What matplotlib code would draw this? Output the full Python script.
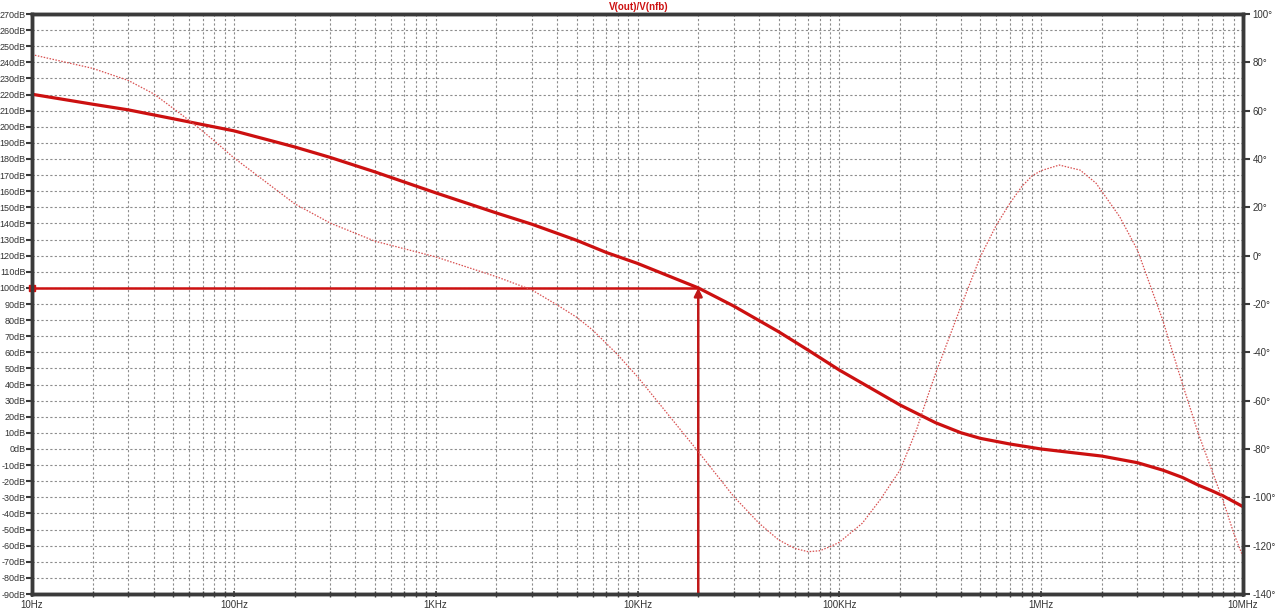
import numpy as np
import matplotlib
matplotlib.use("Agg")
from matplotlib import pyplot as plt
from matplotlib.ticker import FixedLocator, NullFormatter

plt.rcParams['font.family'] = ['Liberation Sans', 'DejaVu Sans']

# magnitude of V(out)/V(nfb), dB
mag_freq = [10, 20, 30, 50, 100, 200, 300, 500, 1e3, 2e3, 3e3, 5e3, 7e3, 10e3,
            20e3, 30e3, 50e3, 70e3, 100e3, 200e3, 300e3, 400e3, 500e3, 700e3,
            1e6, 2e6, 3e6, 4e6, 5e6, 6e6, 7e6, 8e6, 10e6]
mag_db = [220.2, 214.0, 210.5, 205.0, 197.5, 187.5, 181.0, 172.0, 159.0, 146.5,
          139.5, 129.5, 122.0, 115.2, 100.0, 88.7, 72.8, 61.4, 49.0, 27.3, 16.3,
          10.1, 6.6, 3.1, 0.0, -4.4, -8.5, -13.1, -17.6, -22.4, -25.9, -29.2, -35.8]

# phase, degrees
ph_freq = [10, 20, 30, 40, 50, 60, 70, 80, 100, 200, 300, 500, 1e3, 2e3, 3e3,
           4e3, 5e3, 6e3, 7e3, 8e3, 10e3, 20e3, 30e3, 40e3, 50e3, 60e3, 70e3,
           80e3, 90e3, 100e3, 130e3, 159e3, 200e3, 241e3, 270e3, 300e3, 400e3,
           500e3, 600e3, 700e3, 800e3, 900e3, 1e6, 1.23e6, 1.56e6, 1.87e6,
           2.45e6, 3e6, 4e6, 5e6, 6e6, 7e6, 8e6, 9e6, 10e6]
ph_deg = [83.2, 77.5, 72.5, 67.0, 61.0, 56.0, 51.5, 47.5, 40.5, 21.5, 13.5, 6.0,
          -0.5, -8.7, -14.2, -20.4, -25.5, -30.8, -36.3, -41.1, -50.1, -81.1,
          -99.7, -110.7, -117.6, -121.1, -122.5, -122.1, -120.4, -118.6, -110.7,
          -101.1, -88.7, -72.1, -59.7, -48.7, -21.1, -0.4, 12.7, 21.7, 28.5,
          33.0, 35.2, 37.5, 35.4, 30.0, 16.1, 2.3, -26.6, -52.8, -73.5, -88.7,
          -101.8, -114.9, -124.6]

cursor_freq = 20e3
cursor_db = 100

db_ticks = list(range(-90, 280, 10))
deg_ticks = list(range(-140, 120, 20))
dec_ticks = [10, 100, 1e3, 1e4, 1e5, 1e6, 1e7]
dec_labels = ['10Hz', '100Hz', '1KHz', '10KHz', '100KHz', '1MHz', '10MHz']

red = '#cc1010'
frame = '#3a3a3a'
txt = '#333333'

fig = plt.figure(figsize=(12.77, 6.14), dpi=100)
ax = fig.add_axes([32 / 1277, 20 / 614, 1211 / 1277, 580 / 614])
ax2 = ax.twinx()

ax.set_xscale('log')
ax.set_xlim(10, 1e7)
ax.set_ylim(-90, 270)
ax2.set_ylim(-140, 100)

minors = [m * d for d in dec_ticks[:-1] for m in range(2, 10)]
ax.xaxis.set_major_locator(FixedLocator(dec_ticks))
ax.xaxis.set_minor_locator(FixedLocator(minors))
ax.xaxis.set_minor_formatter(NullFormatter())
ax.set_xticklabels(dec_labels)
ax.set_yticks(db_ticks)
ax.set_yticklabels(['%ddB' % v for v in db_ticks])
ax2.set_yticks(deg_ticks)
ax2.set_yticklabels(['%d°' % v for v in deg_ticks])

grid_kw = dict(color='#8c8c8c', linestyle=(0, (2, 2)), linewidth=0.8)
ax.grid(True, which='major', axis='both', **grid_kw)
ax.grid(True, which='minor', axis='x', **grid_kw)
ax.set_axisbelow(True)

for a in (ax, ax2):
    for s in a.spines.values():
        s.set_color(frame)
        s.set_linewidth(2.5)
ax.tick_params(axis='y', direction='out', length=4, width=1.5, color=frame,
               labelsize=6.5, labelcolor=txt, pad=0.5)
ax.tick_params(axis='x', which='major', direction='inout', length=5, width=1.2,
               color=frame, labelsize=7, labelcolor=txt, pad=2)
ax.tick_params(axis='x', which='minor', direction='inout', length=4, width=1,
               color=frame)
ax2.tick_params(axis='y', direction='out', length=5, width=1.5, color=frame,
                labelsize=7, labelcolor=txt, pad=2)

# phase (dotted) and magnitude (solid)
ax2.plot(ph_freq, ph_deg, color='#d85050', linewidth=0.9, linestyle=(0, (1.2, 1.2)))
ax.plot(mag_freq, mag_db, color=red, linewidth=2.3, zorder=5)

# cursor
ax.plot([10, cursor_freq], [cursor_db, cursor_db], color=red, linewidth=1.8,
        zorder=6)
ax.plot([10], [cursor_db], marker='s', markersize=4, color=red, clip_on=False,
        zorder=7)
ax.annotate('', xy=(cursor_freq, cursor_db), xytext=(cursor_freq, -90),
            arrowprops=dict(arrowstyle='-|>', color='#c01818', lw=1.8,
                            mutation_scale=12, shrinkA=0, shrinkB=0),
            zorder=6)

fig.text(0.5, 1 - 7 / 614, 'V(out)/V(nfb)', color=red, fontsize=7,
         fontweight='bold', ha='center', va='center')

fig.savefig('out.png', dpi=100)
